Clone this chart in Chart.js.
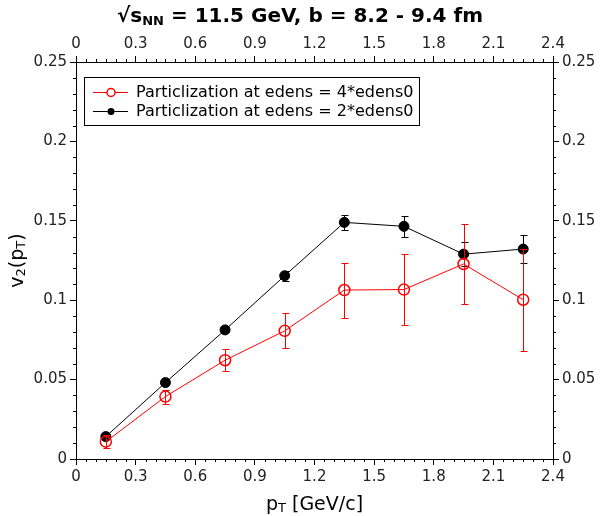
<!DOCTYPE html>
<html>
<head>
<meta charset="utf-8">
<script src="https://cdn.jsdelivr.net/npm/chart.js@4.4.1/dist/chart.umd.min.js"></script>
<style>
body { margin: 0; background: #fff; }
#wrap { width: 600px; height: 516px; }
</style>
</head>
<body>
<div id="wrap"><canvas id="c"></canvas></div>
<script>
// pT bin centres and v2 values
var ptBins = [0.15, 0.45, 0.75, 1.05, 1.35, 1.65, 1.95, 2.25];
var v2Edens4 = [0.0109, 0.0393, 0.0622, 0.0807, 0.1064, 0.1067, 0.1228, 0.1003];
var errEdens4 = [0.0040, 0.0044, 0.0068, 0.0111, 0.0173, 0.0226, 0.0253, 0.0320];
var v2Edens2 = [0.0141, 0.0481, 0.0813, 0.1154, 0.1490, 0.1465, 0.1290, 0.1322];
var errEdens2 = [0.0015, 0.0015, 0.0015, 0.0032, 0.0048, 0.0067, 0.0076, 0.0090];
var xTicks = [0, 0.3, 0.6, 0.9, 1.2, 1.5, 1.8, 2.1, 2.4];
var yTicks = [0, 0.05, 0.1, 0.15, 0.2, 0.25];
var xMinorStep = 0.05;
var yMinorStep = 0.01;
var labelEdens4 = 'Particlization at edens = 4*edens0';
var labelEdens2 = 'Particlization at edens = 2*edens0';

var FONT = 'DejaVu Sans';

function points(xs, ys) {
    return xs.map(function (x, i) { return { x: x, y: ys[i] }; });
}

function axis(pos, ticks, size) {
    return {
        type: 'linear',
        position: pos,
        display: true,
        min: ticks[0],
        max: ticks[ticks.length - 1],
        afterBuildTicks: function (s) {
            s.ticks = ticks.map(function (v) { return { value: v }; });
        },
        afterFit: function (s) {
            if (s.isHorizontal()) { s.height = size; } else { s.width = size; }
        },
        grid: { drawOnChartArea: false, tickLength: 6, tickColor: '#000', tickWidth: 1 },
        border: { display: true, color: '#000', width: 1 },
        ticks: {
            font: { family: FONT, size: 15 },
            color: '#222',
            padding: 3,
            maxRotation: 0,
            autoSkip: false,
            callback: function (v) { return String(+v.toFixed(2)); }
        }
    };
}

// draws a run of text pieces (for subscripts), centred on cx
function richText(ctx, parts, cx, cy) {
    var w = 0;
    parts.forEach(function (p) {
        ctx.font = (p.bold ? 'bold ' : '') + p.size + 'px "' + FONT + '"';
        p.w = ctx.measureText(p.t).width;
        w += p.w;
    });
    var x = cx - w / 2;
    ctx.textBaseline = 'middle';
    ctx.textAlign = 'left';
    parts.forEach(function (p) {
        ctx.font = (p.bold ? 'bold ' : '') + p.size + 'px "' + FONT + '"';
        ctx.fillText(p.t, x, cy + (p.dy || 0));
        x += p.w;
    });
}

var errorBars = {
    id: 'errorBars',
    beforeDatasetDraw: function (chart, args) {
        var ds = chart.data.datasets[args.index];
        var xs = chart.scales.x, ys = chart.scales.y, ctx = chart.ctx;
        ctx.save();
        ctx.strokeStyle = ds.borderColor;
        ctx.lineWidth = 1;
        ds.data.forEach(function (p, i) {
            var px = Math.round(xs.getPixelForValue(p.x)) + 0.5;
            var top = Math.round(ys.getPixelForValue(p.y + ds.errors[i])) + 0.5;
            var bot = Math.round(ys.getPixelForValue(p.y - ds.errors[i])) + 0.5;
            ctx.beginPath();
            ctx.moveTo(px, top); ctx.lineTo(px, bot);
            ctx.moveTo(px - 3, top); ctx.lineTo(px + 4, top);
            ctx.moveTo(px - 3, bot); ctx.lineTo(px + 4, bot);
            ctx.stroke();
        });
        ctx.restore();
    }
};

var decorations = {
    id: 'decorations',
    afterDraw: function (chart) {
        var ctx = chart.ctx, a = chart.chartArea;
        ctx.save();
        ctx.strokeStyle = '#000';
        ctx.lineWidth = 1;

        // minor ticks
        function minor(scale, step, majors) {
            var n = Math.round((scale.max - scale.min) / step);
            ctx.beginPath();
            for (var i = 0; i <= n; i++) {
                var v = scale.min + i * step;
                var isMajor = majors.some(function (m) { return Math.abs(m - v) < 1e-6; });
                if (isMajor) continue;
                var p = Math.round(scale.getPixelForValue(v)) + 0.5;
                if (scale.position === 'bottom') { ctx.moveTo(p, a.bottom); ctx.lineTo(p, a.bottom + 3); }
                if (scale.position === 'top') { ctx.moveTo(p, a.top); ctx.lineTo(p, a.top - 3); }
                if (scale.position === 'left') { ctx.moveTo(a.left, p); ctx.lineTo(a.left - 3, p); }
                if (scale.position === 'right') { ctx.moveTo(a.right, p); ctx.lineTo(a.right + 3, p); }
            }
            ctx.stroke();
        }
        minor(chart.scales.x, xMinorStep, xTicks);
        minor(chart.scales.x2, xMinorStep, xTicks);
        minor(chart.scales.y, yMinorStep, yTicks);
        minor(chart.scales.y2, yMinorStep, yTicks);

        // title
        ctx.fillStyle = '#000';
        richText(ctx, [
            { t: '\u221As', size: 20, bold: true },
            { t: 'NN', size: 13, bold: true, dy: 5 },
            { t: ' = 11.5 GeV, b = 8.2 - 9.4 fm', size: 20, bold: true }
        ], 300, 17);

        // axis titles
        richText(ctx, [
            { t: 'p', size: 19 },
            { t: 'T', size: 13, dy: 4 },
            { t: ' [GeV/c]', size: 19 }
        ], (a.left + a.right) / 2, 505);

        ctx.save();
        ctx.translate(18, (a.top + a.bottom) / 2);
        ctx.rotate(-Math.PI / 2);
        richText(ctx, [
            { t: 'v', size: 19 },
            { t: '2', size: 13, dy: 4 },
            { t: '(p', size: 19 },
            { t: 'T', size: 13, dy: 4 },
            { t: ')', size: 19 }
        ], 0, 0);
        ctx.restore();

        // legend box
        var bx = 84.5, by = 77.5, bw = 335, bh = 48;
        ctx.fillStyle = '#fff';
        ctx.fillRect(bx, by, bw, bh);
        ctx.strokeRect(bx, by, bw, bh);
        var rows = [
            { ds: chart.data.datasets[0], y: 92.5 },
            { ds: chart.data.datasets[1], y: 111.5 }
        ];
        rows.forEach(function (r) {
            ctx.strokeStyle = r.ds.borderColor;
            ctx.lineWidth = 1;
            ctx.beginPath();
            ctx.moveTo(93, r.y); ctx.lineTo(128, r.y);
            ctx.stroke();
            ctx.beginPath();
            ctx.arc(111, r.y, r.ds.pointRadius - 1.5, 0, Math.PI * 2);
            if (r.ds.pointBackgroundColor !== 'rgba(0,0,0,0)') {
                ctx.fillStyle = r.ds.pointBackgroundColor;
                ctx.fill();
            } else {
                ctx.fillStyle = '#fff';
                ctx.fill();
                ctx.lineWidth = 1.5;
                ctx.stroke();
            }
            ctx.fillStyle = '#000';
            ctx.font = '16px "' + FONT + '"';
            ctx.textAlign = 'left';
            ctx.textBaseline = 'middle';
            ctx.fillText(r.ds.label, 136, r.y);
        });
        ctx.restore();
    }
};

new Chart(document.getElementById('c'), {
    type: 'scatter',
    data: {
        datasets: [
            {
                label: labelEdens4,
                data: points(ptBins, v2Edens4),
                errors: errEdens4,
                showLine: true,
                borderColor: '#ff0000',
                borderWidth: 1,
                pointRadius: 5.5,
                pointBorderWidth: 1.5,
                pointBackgroundColor: 'rgba(0,0,0,0)',
                pointBorderColor: '#ff0000',
                xAxisID: 'x',
                yAxisID: 'y'
            },
            {
                label: labelEdens2,
                data: points(ptBins, v2Edens2),
                errors: errEdens2,
                showLine: true,
                borderColor: '#000000',
                borderWidth: 1,
                pointRadius: 5,
                pointBorderWidth: 1,
                pointBackgroundColor: '#000000',
                pointBorderColor: '#000000',
                xAxisID: 'x',
                yAxisID: 'y'
            }
        ]
    },
    options: {
        responsive: true,
        maintainAspectRatio: false,
        animation: false,
        devicePixelRatio: 1,
        layout: { padding: 0 },
        plugins: { legend: { display: false }, tooltip: { enabled: false } },
        scales: {
            x: axis('bottom', xTicks, 57),
            x2: axis('top', xTicks, 62),
            y: axis('left', yTicks, 76),
            y2: axis('right', yTicks, 47)
        }
    },
    plugins: [errorBars, decorations]
});
</script>
</body>
</html>
